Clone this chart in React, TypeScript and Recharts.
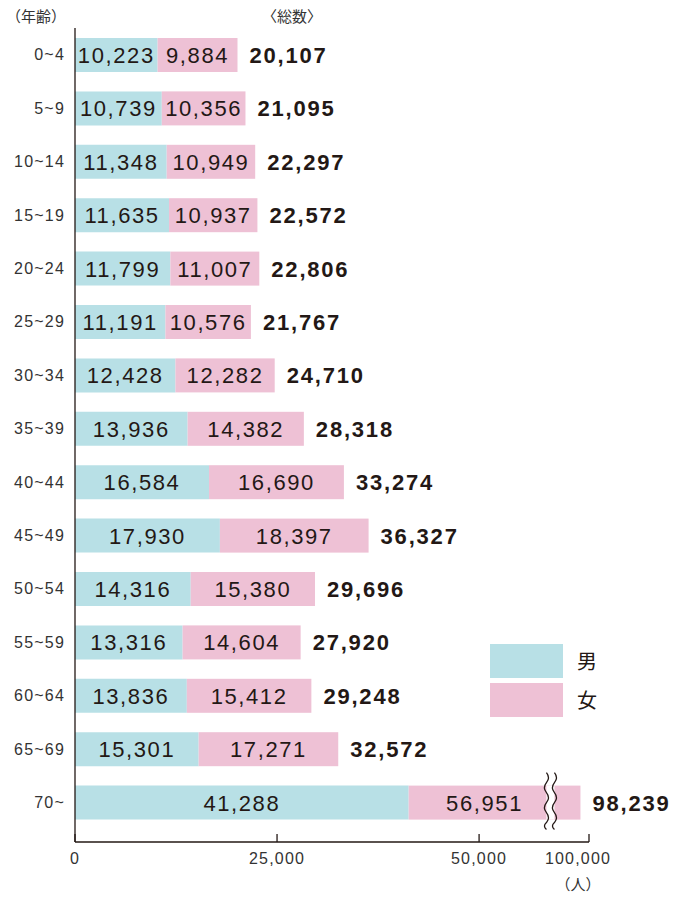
import { BarChart, Bar, XAxis, YAxis, LabelList } from "recharts";

const ages = ["0~4", "5~9", "10~14", "15~19", "20~24", "25~29", "30~34", "35~39", "40~44", "45~49", "50~54", "55~59", "60~64", "65~69", "70~"];
const male = [10223, 10739, 11348, 11635, 11799, 11191, 12428, 13936, 16584, 17930, 14316, 13316, 13836, 15301, 41288];
const female = [9884, 10356, 10949, 10937, 11007, 10576, 12282, 14382, 16690, 18397, 15380, 14604, 15412, 17271, 56951];
const totals = [20107, 21095, 22297, 22572, 22806, 21767, 24710, 28318, 33274, 36327, 29696, 27920, 29248, 32572, 98239];
const xTicks = [0, 25000, 50000, 63600];
const xTickLabels = ["0", "25,000", "50,000", "100,000"];

// axis is broken above 50,000: the part past it is drawn shrunk
const BREAK_AT = 50000;
const BREAK_RATIO = 0.26;
const squeeze = (v: number) => (v <= BREAK_AT ? v : BREAK_AT + (v - BREAK_AT) * BREAK_RATIO);

const MALE = "#b8e0e6";
const FEMALE = "#eec1d5";
const INK = "#231815";
const FONT = "'Liberation Sans', Arial, sans-serif";
const JP = "'Noto Sans CJK JP', sans-serif";

const rows = ages.map((age, i) => {
  const end = squeeze(male[i] + female[i]);
  return { age, male: male[i], femaleShown: end - male[i] };
});

const fmt = (v: number) => v.toLocaleString("en-US");

const wave = (x: number, top: number, bottom: number) => {
  let d = `M${x},${top}`;
  let y = top;
  let side = 1;
  while (y < bottom) {
    const ny = Math.min(y + 10, bottom);
    d += ` Q${x + side * 4},${(y + ny) / 2} ${x},${ny}`;
    y = ny;
    side = -side;
  }
  return d;
};

const FemaleShape = (props: any) => {
  const { x, y, width, height, index } = props;
  const broken = male[index] + female[index] > BREAK_AT;
  const bx = x + width - 34;
  return (
    <g>
      <rect x={x} y={y} width={width} height={height} fill={FEMALE} />
      {broken && (
        <g>
          <rect x={bx} y={y} width={8} height={height} fill="#fff" />
          <path d={wave(bx, y - 13, y + height + 10)} fill="none" stroke={INK} strokeWidth={1.3} />
          <path d={wave(bx + 8, y - 13, y + height + 10)} fill="none" stroke={INK} strokeWidth={1.3} />
        </g>
      )}
    </g>
  );
};

const InnerLabel = (values: number[], shift = 0) => (props: any) => {
  const { x, y, width, height, index } = props;
  const broken = male[index] + female[index] > BREAK_AT && shift !== 0;
  const cx = x + width / 2 - (broken ? 10 : 0);
  return (
    <text x={cx} y={y + height / 2} dy="0.36em" textAnchor="middle" fontFamily={FONT} fontSize={22} letterSpacing={1.6} fill={INK}>
      {fmt(values[index])}
    </text>
  );
};

const TotalLabel = (props: any) => {
  const { x, y, width, height, index } = props;
  return (
    <text x={x + width + 12} y={y + height / 2} dy="0.36em" fontFamily={FONT} fontWeight={700} fontSize={22} letterSpacing={1.8} fill={INK}>
      {fmt(totals[index])}
    </text>
  );
};

const XTick = (props: any) => {
  const { x, y, payload, index } = props;
  const last = index === xTicks.length - 1;
  return (
    <g>
      <line x1={x} y1={y} x2={x} y2={y - 8} stroke={INK} strokeWidth={1.3} />
      <text x={x - (last ? 11 : 0)} y={y + 22} textAnchor="middle" fontFamily={FONT} fontSize={16} letterSpacing={1.2} fill="#333">
        {xTickLabels[xTicks.indexOf(payload.value)]}
      </text>
      {last && (
        <text x={x - 11} y={y + 48} textAnchor="middle" fontFamily={JP} fontSize={15} fill="#333">
          （人）
        </text>
      )}
    </g>
  );
};

export default function App() {
  return (
    <div style={{ position: "absolute", left: 0, top: 0, width: 677, height: 898, background: "#fff" }}>
      <BarChart
        width={677}
        height={898}
        data={rows}
        layout="vertical"
        margin={{ top: 28, right: 88, bottom: 0, left: 0 }}
        barSize={34}
      >
        <XAxis
          type="number"
          domain={[0, 63600]}
          ticks={xTicks}
          tick={<XTick />}
          tickSize={0}
          tickMargin={0}
          tickLine={false}
          axisLine={{ stroke: INK, strokeWidth: 1.3 }}
          height={56}
          interval={0}
        />
        <YAxis
          type="category"
          dataKey="age"
          width={75}
          padding={{ top: 0, bottom: 13 }}
          tickLine={false}
          tickSize={0}
          tickMargin={10}
          axisLine={{ stroke: INK, strokeWidth: 1.3 }}
          tick={{ fontFamily: FONT, fontSize: 16, fill: "#333", letterSpacing: 1.2 }}
          interval={0}
        />
        <Bar dataKey="male" stackId="a" fill={MALE} isAnimationActive={false}>
          <LabelList dataKey="male" content={InnerLabel(male)} />
        </Bar>
        <Bar dataKey="femaleShown" stackId="a" fill={FEMALE} shape={<FemaleShape />} isAnimationActive={false}>
          <LabelList dataKey="femaleShown" content={InnerLabel(female, 1)} />
          <LabelList dataKey="femaleShown" content={TotalLabel} />
        </Bar>
      </BarChart>
      <div style={{ position: "absolute", left: 6, top: 5, fontFamily: JP, fontSize: 15, color: "#333" }}>（年齢）</div>
      <div style={{ position: "absolute", left: 262, top: 5, fontFamily: JP, fontSize: 15, color: "#333" }}>〈総数〉</div>
      <div style={{ position: "absolute", left: 490, top: 641, fontFamily: JP, fontSize: 20, color: INK }}>
        {[{ name: "男", color: MALE }, { name: "女", color: FEMALE }].map((d) => (
          <div key={d.name} style={{ display: "flex", alignItems: "center", height: 39 }}>
            <span style={{ width: 73, height: 34, background: d.color, display: "inline-block" }} />
            <span style={{ marginLeft: 14, lineHeight: "34px" }}>{d.name}</span>
          </div>
        ))}
      </div>
    </div>
  );
}
